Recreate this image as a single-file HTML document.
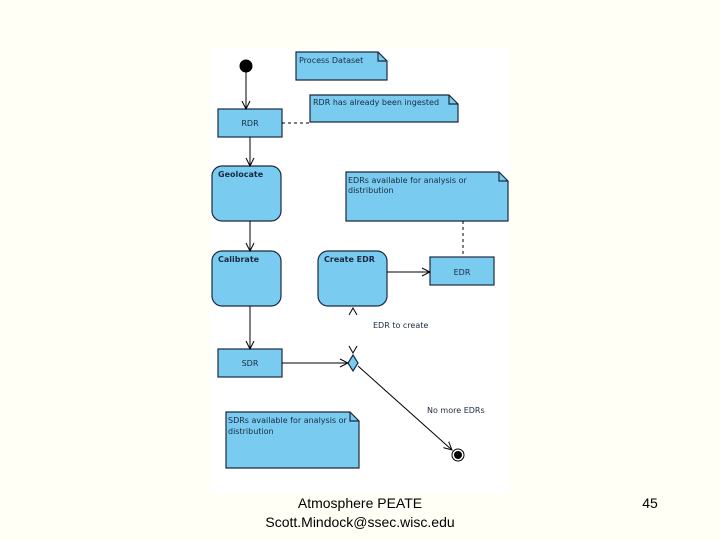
<!DOCTYPE html>
<html><head><meta charset="utf-8"><style>
html,body{margin:0;padding:0;width:720px;height:540px;background:#FFFFF5;overflow:hidden}
svg{position:absolute;left:0;top:0}
.t{font-family:"DejaVu Sans","Liberation Sans",sans-serif;font-size:8px;fill:#1a2a40}
.b{font-family:"DejaVu Sans","Liberation Sans",sans-serif;font-size:8px;font-weight:bold;fill:#1a2a40}
.f{font-family:"Liberation Sans",sans-serif;font-size:14px;fill:#000}
</style></head><body>
<svg width="720" height="540" viewBox="0 0 720 540">
<defs><marker id="a" markerWidth="10" markerHeight="10" refX="9" refY="5" orient="auto" markerUnits="userSpaceOnUse"><path d="M1,1 L9,5 L1,9" fill="none" stroke="#000" stroke-width="1"/></marker></defs>
<rect x="210" y="47" width="300" height="446" fill="#fff"/>
<g stroke="#1a2a40" stroke-width="1.2" fill="#7ACBF0">
<!-- notes -->
<path d="M296,52 H378 L387,61 V80 H296 Z"/><path d="M378,52 V61 H387" fill="none"/>
<path d="M310,95 H449 L458,104 V122 H310 Z"/><path d="M449,95 V104 H458" fill="none"/>
<path d="M346,172 H499 L508,181 V221 H346 Z"/><path d="M499,172 V181 H508" fill="none"/>
<path d="M226,412 H350 L359,421 V468 H226 Z"/><path d="M350,412 V421 H359" fill="none"/>
<!-- boxes -->
<rect x="218" y="109" width="64" height="28"/>
<rect x="212" y="166" width="69" height="55" rx="10"/>
<rect x="212" y="251" width="69" height="55" rx="10"/>
<rect x="318" y="251" width="69" height="55" rx="10"/>
<rect x="430" y="257" width="64" height="28"/>
<rect x="218" y="349" width="64" height="28"/>
<path d="M353,355 L358,363 L353,371 L348,363 Z"/>
</g>
<g stroke="#000" stroke-width="1" fill="none">
<line x1="246" y1="66" x2="246" y2="109" marker-end="url(#a)"/>
<line x1="250" y1="137" x2="250" y2="166" marker-end="url(#a)"/>
<line x1="250" y1="221" x2="250" y2="251" marker-end="url(#a)"/>
<line x1="250" y1="306" x2="250" y2="349" marker-end="url(#a)"/>
<line x1="387" y1="272" x2="430" y2="272" marker-end="url(#a)"/>
<line x1="282" y1="363" x2="348" y2="363" marker-end="url(#a)"/>
<line x1="358" y1="366" x2="452" y2="450" marker-end="url(#a)"/>
<path d="M349,315 L353,308 L357,315"/>
<path d="M349,346 L353,353 L357,346"/>
<line x1="282" y1="123" x2="310" y2="123" stroke-dasharray="3,3"/>
<line x1="463" y1="221" x2="463" y2="257" stroke-dasharray="3,3"/>
</g>
<circle cx="246" cy="66" r="6.5" fill="#000"/>
<circle cx="458" cy="455" r="6" fill="#fff" stroke="#000" stroke-width="1"/>
<circle cx="458" cy="455" r="4" fill="#000"/>
<text class="t" x="299" y="63">Process Dataset</text>
<text class="t" x="313" y="105">RDR has already been ingested</text>
<text class="t" x="250" y="126" text-anchor="middle">RDR</text>
<text class="b" x="218" y="177">Geolocate</text>
<text class="t" x="348" y="183">EDRs available for analysis or</text>
<text class="t" x="348" y="193">distribution</text>
<text class="b" x="218" y="262">Calibrate</text>
<text class="b" x="324" y="262">Create EDR</text>
<text class="t" x="462" y="275" text-anchor="middle">EDR</text>
<text class="t" x="373" y="328">EDR to create</text>
<text class="t" x="250" y="366" text-anchor="middle">SDR</text>
<text class="t" x="427" y="413">No more EDRs</text>
<text class="t" x="228" y="423">SDRs available for analysis or</text>
<text class="t" x="228" y="434">distribution</text>
<text class="f" x="360" y="508" text-anchor="middle">Atmosphere PEATE</text>
<text class="f" x="360" y="527" text-anchor="middle">Scott.Mindock@ssec.wisc.edu</text>
<text class="f" x="650" y="508" text-anchor="middle">45</text>
</svg>
</body></html>
